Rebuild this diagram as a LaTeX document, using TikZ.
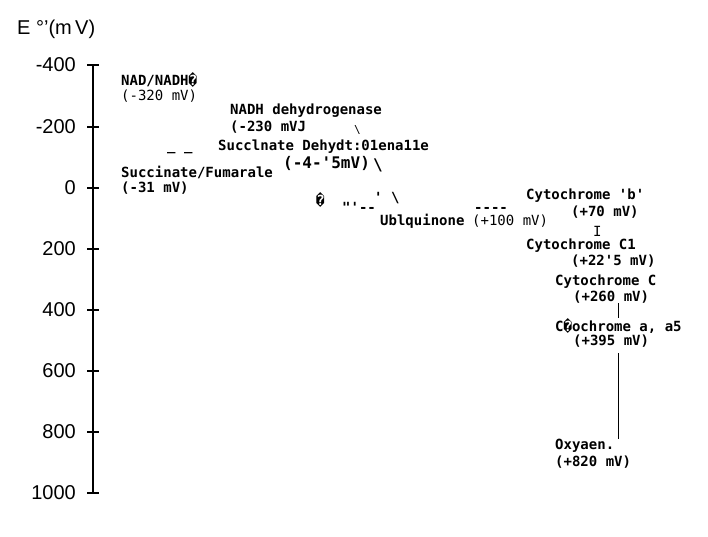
\documentclass[tikz,border=0pt]{standalone}
\usepackage{fontspec}
\setmainfont{Liberation Sans}
\newfontfamily\monof{DejaVu Sans Mono}
\begin{document}
\begin{tikzpicture}[x=1pt,y=-1pt,
  lbl/.style={anchor=west,inner sep=0pt,font=\monof\fontsize{14}{14}\selectfont},
  blbl/.style={lbl,font=\monof\bfseries\fontsize{14}{14}\selectfont},
  tick/.style={anchor=east,inner sep=0pt,font=\fontsize{20}{20}\selectfont},
  ax/.style={line width=1.3pt}]
\useasboundingbox (0,0) rectangle (708,536);
\node[anchor=west,inner sep=0pt,font=\fontsize{20}{20}\selectfont] (title) at (17,29) {E °'(m\,V)};
\draw[ax] (93,65) -- (93,493);
\foreach \v/\y in {-400/65,-200/127,0/188,200/249,400/310,600/371,800/432,1000/493}{
  \draw[ax] (87,\y) -- (99,\y);
  \node[tick] (t\v) at (76,\y) {\v};
}
\node[blbl] (nad) at (121,80) {NAD/NADH\char"FFFD};
\node[lbl] (nadv) at (121,96) {(-320 mV)};
\node[blbl] (ndh) at (230,111) {NADH dehydrogenase};
\node[blbl] (ndhv) at (230,127) {(-230 mVJ};
\node[lbl,font=\monof\fontsize{11}{11}\selectfont] (s1) at (354,130) {\textbackslash};
\node[blbl] (dash1) at (167,152) {\_ \_};
\node[blbl] (sdh) at (218,147) {Succlnate Dehydt:01ena11e};
\node[blbl,font=\monof\bfseries\fontsize{16}{16}\selectfont] (sdhv) at (283,163) {(-4-'5mV)};
\node[blbl,font=\monof\bfseries\fontsize{16}{16}\selectfont] (s2) at (373,165) {\textbackslash};
\node[blbl] (q1) at (316,200) {\char"FFFD};
\node[blbl] (q2) at (342,207) {"'--};
\node[blbl] (q3) at (374,198) {' \textbackslash};
\node[blbl] (suc) at (121,172) {Succinate/Fumarale};
\node[blbl] (sucv) at (121,188) {(-31 mV)};
\node[blbl] (ubq) at (380,221) {Ublquinone};
\node[lbl] (ubqv) at (472,221) {(+100 mV)};
\node[blbl] (ubqd) at (474,210) {----};
\node[blbl] (cb) at (526,196) {Cytochrome 'b'};
\node[blbl] (cbv) at (571,212) {(+70 mV)};
\node[lbl] (bar) at (593,231) {I};
\node[blbl] (cc1) at (526,246) {Cytochrome C1};
\node[blbl] (cc1v) at (571,261) {(+22'5 mV)};
\node[blbl] (cc) at (555,282) {Cytochrome C};
\node[blbl] (ccv) at (573,297) {(+260 mV)};
\node[blbl] (caa) at (555,326) {C\char"FFFD ochrome a, a5};
\node[blbl] (caav) at (573,341) {(+395 mV)};
\node[blbl] (oxy) at (555,446) {Oxyaen.};
\node[blbl] (oxyv) at (555,462) {(+820 mV)};
\draw[line width=1pt] (ccv.south -| 618,0) -- (caa.north -| 618,0);
\draw[line width=1pt] (caav.south -| 618,0) ++(0,6) -- (oxy.north -| 618,0);
\end{tikzpicture}
\end{document}
